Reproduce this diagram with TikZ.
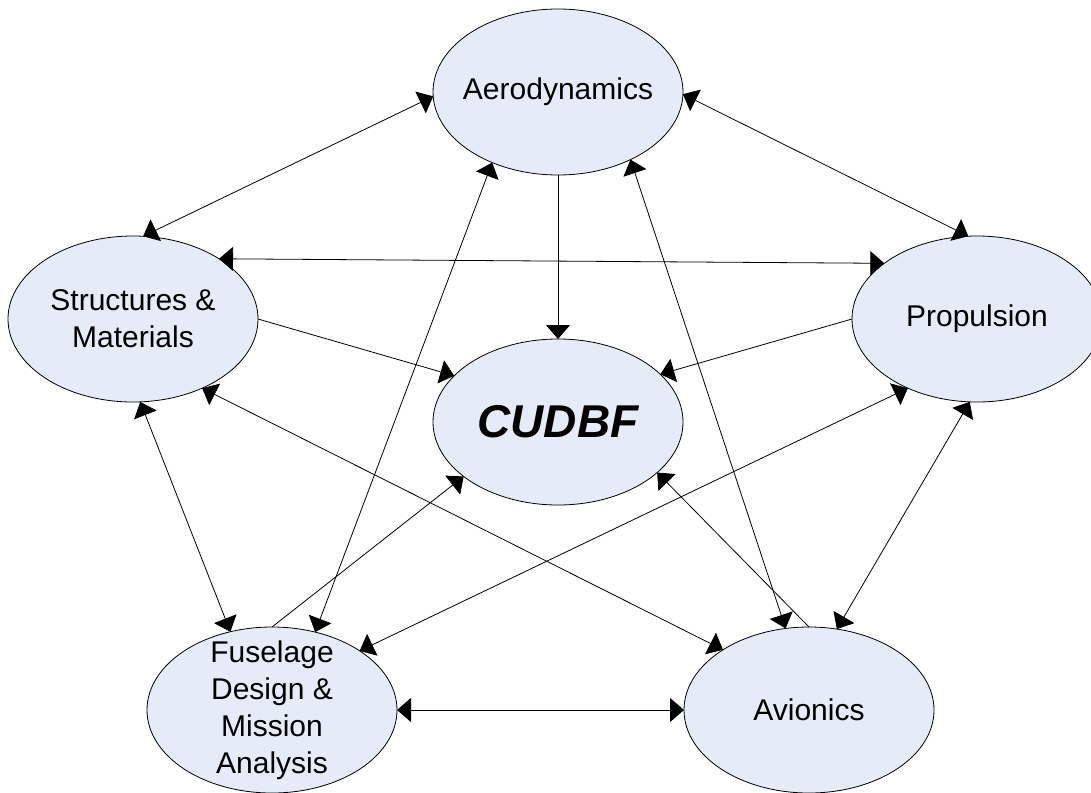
\documentclass[tikz,border=0pt]{standalone}
\usepackage{fontspec}
\setmainfont{Liberation Sans}
\usetikzlibrary{shapes.geometric,arrows.meta}

\tikzset{every picture/.style={line width=0.75pt}}
\tikzset{
  bubble/.style={ellipse, draw={rgb, 255:red, 0; green, 0; blue, 0 }, fill={rgb, 255:red, 230; green, 236; blue, 247 }, line width=0.6pt, minimum width=187.5pt, minimum height=124.5pt, inner sep=0pt, outer sep=0pt},
  bubbletext/.style={align=center, inner sep=0.75pt, font=\fontsize{22.5}{27.75}\selectfont},
  link/.style={line width=0.6pt, -{Triangle[length=10.5pt,width=18pt]}},
  twoway/.style={line width=0.6pt, {Triangle[length=10.5pt,width=18pt]}-{Triangle[length=10.5pt,width=18pt]}},
}

\begin{document}
\begin{tikzpicture}[x=0.75pt,y=0.75pt,yscale=-1,xscale=1]
\useasboundingbox (0,0) rectangle (1091,792);

%Shape: Ellipse [id:aero]
\node [bubble] (aero) at (558,92) {};
%Shape: Ellipse [id:struct]
\node [bubble] (struct) at (133,319) {};
%Shape: Ellipse [id:prop]
\node [bubble] (prop) at (977,319) {};
%Shape: Ellipse [id:cudbf]
\node [bubble] (cudbf) at (558,422) {};
%Shape: Ellipse [id:fuse]
\node [bubble] (fuse) at (272,710) {};
%Shape: Ellipse [id:avion]
\node [bubble] (avion) at (809,710) {};

%Straight Lines: into CUDBF
\draw [link] (aero.270) -- (cudbf.90);
\draw [link] (struct.0) -- (cudbf.156);
\draw [link] (prop.180) -- (cudbf.25);
\draw [link] (fuse.90) -- (cudbf.210);
\draw [link] (avion.90) -- (cudbf.333);
%Straight Lines: both ways
\draw [twoway] (struct.83) -- (aero.182);
\draw [twoway] (aero.359) -- (prop.96);
\draw [twoway] (struct.35) -- (prop.149);
\draw [twoway] (struct.275) -- (fuse.118);
\draw [twoway] (aero.227) -- (fuse.61);
\draw [twoway] (aero.317) -- (avion.106);
\draw [twoway] (struct.315) -- (avion.145);
\draw [twoway] (prop.225) -- (fuse.34);
\draw [twoway] (prop.265) -- (avion.71);
\draw [twoway] (fuse.0) -- (avion.180);

% Text Node
\node [bubbletext] (aero-t) at (aero) {Aerodynamics};
% Text Node
\node [bubbletext] (struct-t) at (struct) {Structures \&\\Materials};
% Text Node
\node [bubbletext] (prop-t) at (prop) {Propulsion};
% Text Node
\node [bubbletext, font=\fontsize{34.5}{40}\selectfont\bfseries\itshape] (cudbf-t) at (cudbf) {CUDBF};
% Text Node
\node [bubbletext] (fuse-t) at (fuse) {Fuselage\\Design \&\\Mission\\Analysis};
% Text Node
\node [bubbletext] (avion-t) at (avion) {Avionics};

\end{tikzpicture}
\end{document}
